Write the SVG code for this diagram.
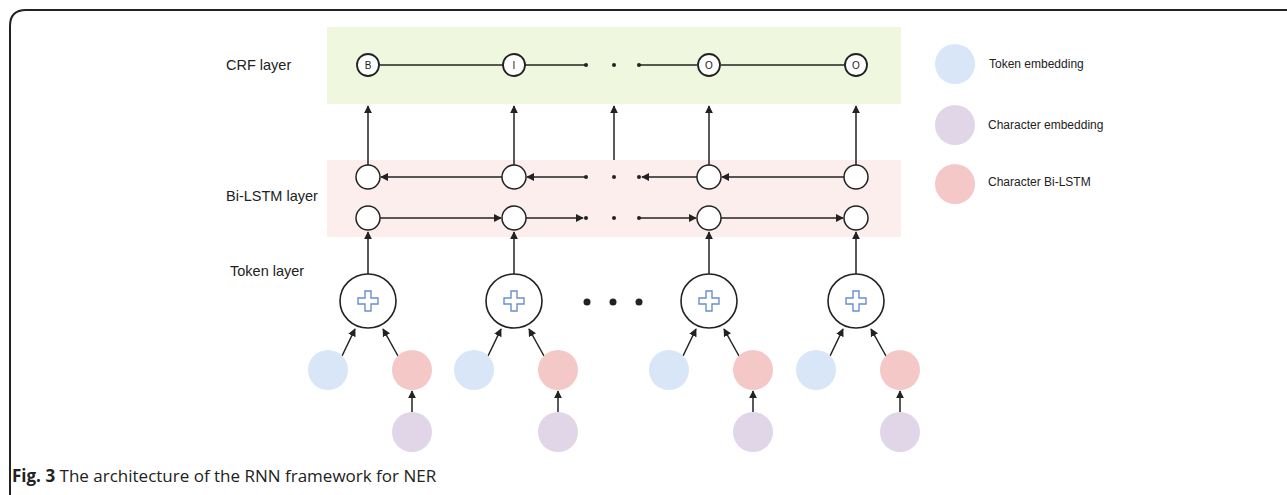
<svg xmlns="http://www.w3.org/2000/svg" width="1287" height="495" viewBox="0 0 1287 495">
<style>
.lbl{font-family:"Liberation Sans",Arial,sans-serif;font-size:14.5px;fill:#222}
.leg{font-family:"Liberation Sans",Arial,sans-serif;font-size:12px;fill:#222}
.crf{fill:#fff;stroke:#222;stroke-width:1.8}
.crft{font-family:"Liberation Sans",Arial,sans-serif;font-size:10px;fill:#222;text-anchor:middle}
.h{fill:#fff;stroke:#222;stroke-width:1.5}
.tok{fill:#fff;stroke:#222;stroke-width:1.6}
.plus{fill:#fff;stroke:#6a8fd0;stroke-width:1.4}
.te{fill:#d8e6f8}
.ce{fill:#e1d6e8}
.cb{fill:#f5c8c8}
.ln{stroke:#222;stroke-width:1.5;fill:none}
.ar{stroke:#222;stroke-width:1.5;fill:none;marker-end:url(#ah)}
.dot{fill:#222}
.cap{font-family:"Open Sans","Noto Sans",sans-serif;font-size:17px;fill:#222}
</style>
<defs>
<marker id="ah" viewBox="0 0 10 10" refX="9" refY="5" markerWidth="8" markerHeight="8" markerUnits="userSpaceOnUse" orient="auto">
<path d="M0,0 L10,5 L0,10 z" fill="#222"/>
</marker>
<path id="plus" d="M-3,-10 h6 v7 h7 v6 h-7 v7 h-6 v-7 h-7 v-6 h7 z"/>
</defs>
<path d="M10,495 L10,26 Q10,10 26,10 L1287,10" fill="none" stroke="#222" stroke-width="2"/>
<g id="layers">
<rect x="327" y="27" width="574" height="77" fill="#eff8df"/>
<rect x="327" y="160" width="574" height="77" fill="#fdeeee"/>
<text class="lbl" x="226" y="70">CRF layer</text>
<text class="lbl" x="226" y="201">Bi-LSTM layer</text>
<text class="lbl" x="230" y="276">Token layer</text>
</g>
<g id="connectors">
<line class="ln" x1="379" y1="65" x2="503" y2="65"/>
<line class="ln" x1="525" y1="65" x2="586" y2="65"/>
<line class="ln" x1="639" y1="65" x2="697" y2="65"/>
<line class="ln" x1="721" y1="65" x2="845" y2="65"/>
<circle class="dot" cx="586" cy="65" r="2"/><circle class="dot" cx="614" cy="65" r="2"/><circle class="dot" cx="639" cy="65" r="2"/>
<line class="ar" x1="368" y1="165" x2="368" y2="106"/>
<line class="ar" x1="514" y1="165" x2="514" y2="106"/>
<line class="ar" x1="614" y1="160" x2="614" y2="106"/>
<line class="ar" x1="709" y1="165" x2="709" y2="106"/>
<line class="ar" x1="856" y1="165" x2="856" y2="106"/>
<line class="ar" x1="502" y1="177" x2="381" y2="177"/>
<line class="ar" x1="586" y1="177" x2="527" y2="177"/>
<line class="ar" x1="697" y1="177" x2="642" y2="177"/>
<line class="ar" x1="844" y1="177" x2="722" y2="177"/>
<circle class="dot" cx="586" cy="177" r="2"/><circle class="dot" cx="614" cy="177" r="2"/><circle class="dot" cx="639" cy="177" r="2"/>
<line class="ar" x1="380" y1="218" x2="501" y2="218"/>
<line class="ar" x1="526" y1="218" x2="583" y2="218"/>
<line class="ar" x1="639" y1="218" x2="696" y2="218"/>
<line class="ar" x1="721" y1="218" x2="843" y2="218"/>
<circle class="dot" cx="586" cy="218" r="2"/><circle class="dot" cx="614" cy="218" r="2"/><circle class="dot" cx="639" cy="218" r="2"/>
<line class="ar" x1="368" y1="275" x2="368" y2="232"/>
<line class="ar" x1="514" y1="275" x2="514" y2="232"/>
<line class="ar" x1="709" y1="275" x2="709" y2="232"/>
<line class="ar" x1="856" y1="275" x2="856" y2="232"/>
<circle class="dot" cx="587" cy="302" r="3.5"/><circle class="dot" cx="613" cy="302" r="3.5"/><circle class="dot" cx="639" cy="302" r="3.5"/>
<line class="ar" x1="342" y1="356" x2="355" y2="329"/>
<line class="ar" x1="398" y1="356" x2="383" y2="329"/>
<line class="ar" x1="412" y1="412" x2="412" y2="391"/>
<line class="ar" x1="488" y1="356" x2="501" y2="329"/>
<line class="ar" x1="544" y1="356" x2="529" y2="329"/>
<line class="ar" x1="558" y1="412" x2="558" y2="391"/>
<line class="ar" x1="683" y1="356" x2="696" y2="329"/>
<line class="ar" x1="739" y1="356" x2="724" y2="329"/>
<line class="ar" x1="753" y1="412" x2="753" y2="391"/>
<line class="ar" x1="830" y1="356" x2="843" y2="329"/>
<line class="ar" x1="886" y1="356" x2="871" y2="329"/>
<line class="ar" x1="900" y1="412" x2="900" y2="391"/>
</g>
<g id="crf-B"><circle class="crf" cx="368" cy="65" r="11"/><text class="crft" x="368" y="69">B</text></g>
<g id="crf-I"><circle class="crf" cx="514" cy="65" r="11"/><text class="crft" x="514" y="69">I</text></g>
<g id="crf-O1"><circle class="crf" cx="709" cy="65" r="11"/><text class="crft" x="709" y="69">O</text></g>
<g id="crf-O2"><circle class="crf" cx="856" cy="65" r="11"/><text class="crft" x="856" y="69">O</text></g>
<g id="bw1"><circle class="h" cx="368" cy="177" r="12"/></g>
<g id="bw2"><circle class="h" cx="514" cy="177" r="12"/></g>
<g id="bw3"><circle class="h" cx="709" cy="177" r="12"/></g>
<g id="bw4"><circle class="h" cx="856" cy="177" r="12"/></g>
<g id="fw1"><circle class="h" cx="368" cy="218" r="12"/></g>
<g id="fw2"><circle class="h" cx="514" cy="218" r="12"/></g>
<g id="fw3"><circle class="h" cx="709" cy="218" r="12"/></g>
<g id="fw4"><circle class="h" cx="856" cy="218" r="12"/></g>
<g id="tok1"><ellipse class="tok" cx="368" cy="301" rx="28" ry="27"/><use href="#plus" class="plus" x="368" y="301"/></g>
<g id="tok2"><ellipse class="tok" cx="514" cy="301" rx="28" ry="27"/><use href="#plus" class="plus" x="514" y="301"/></g>
<g id="tok3"><ellipse class="tok" cx="709" cy="301" rx="28" ry="27"/><use href="#plus" class="plus" x="709" y="301"/></g>
<g id="tok4"><ellipse class="tok" cx="856" cy="301" rx="28" ry="27"/><use href="#plus" class="plus" x="856" y="301"/></g>
<g id="te1"><circle class="te" cx="328" cy="370" r="20"/></g>
<g id="cb1"><circle class="cb" cx="412" cy="370" r="20"/></g>
<g id="ce1"><circle class="ce" cx="412" cy="432" r="20"/></g>
<g id="te2"><circle class="te" cx="474" cy="370" r="20"/></g>
<g id="cb2"><circle class="cb" cx="558" cy="370" r="20"/></g>
<g id="ce2"><circle class="ce" cx="558" cy="432" r="20"/></g>
<g id="te3"><circle class="te" cx="669" cy="370" r="20"/></g>
<g id="cb3"><circle class="cb" cx="753" cy="370" r="20"/></g>
<g id="ce3"><circle class="ce" cx="753" cy="432" r="20"/></g>
<g id="te4"><circle class="te" cx="816" cy="370" r="20"/></g>
<g id="cb4"><circle class="cb" cx="900" cy="370" r="20"/></g>
<g id="ce4"><circle class="ce" cx="900" cy="432" r="20"/></g>
<g id="legend">
<circle class="te" cx="955" cy="64" r="20"/><text class="leg" x="989" y="68">Token embedding</text>
<circle class="ce" cx="955" cy="125" r="20"/><text class="leg" x="988" y="129">Character embedding</text>
<circle class="cb" cx="955" cy="184" r="20"/><text class="leg" x="988" y="186">Character Bi-LSTM</text>
</g>
<text class="cap" x="12" y="482"><tspan font-weight="bold">Fig. 3</tspan> The architecture of the RNN framework for NER</text>
</svg>
